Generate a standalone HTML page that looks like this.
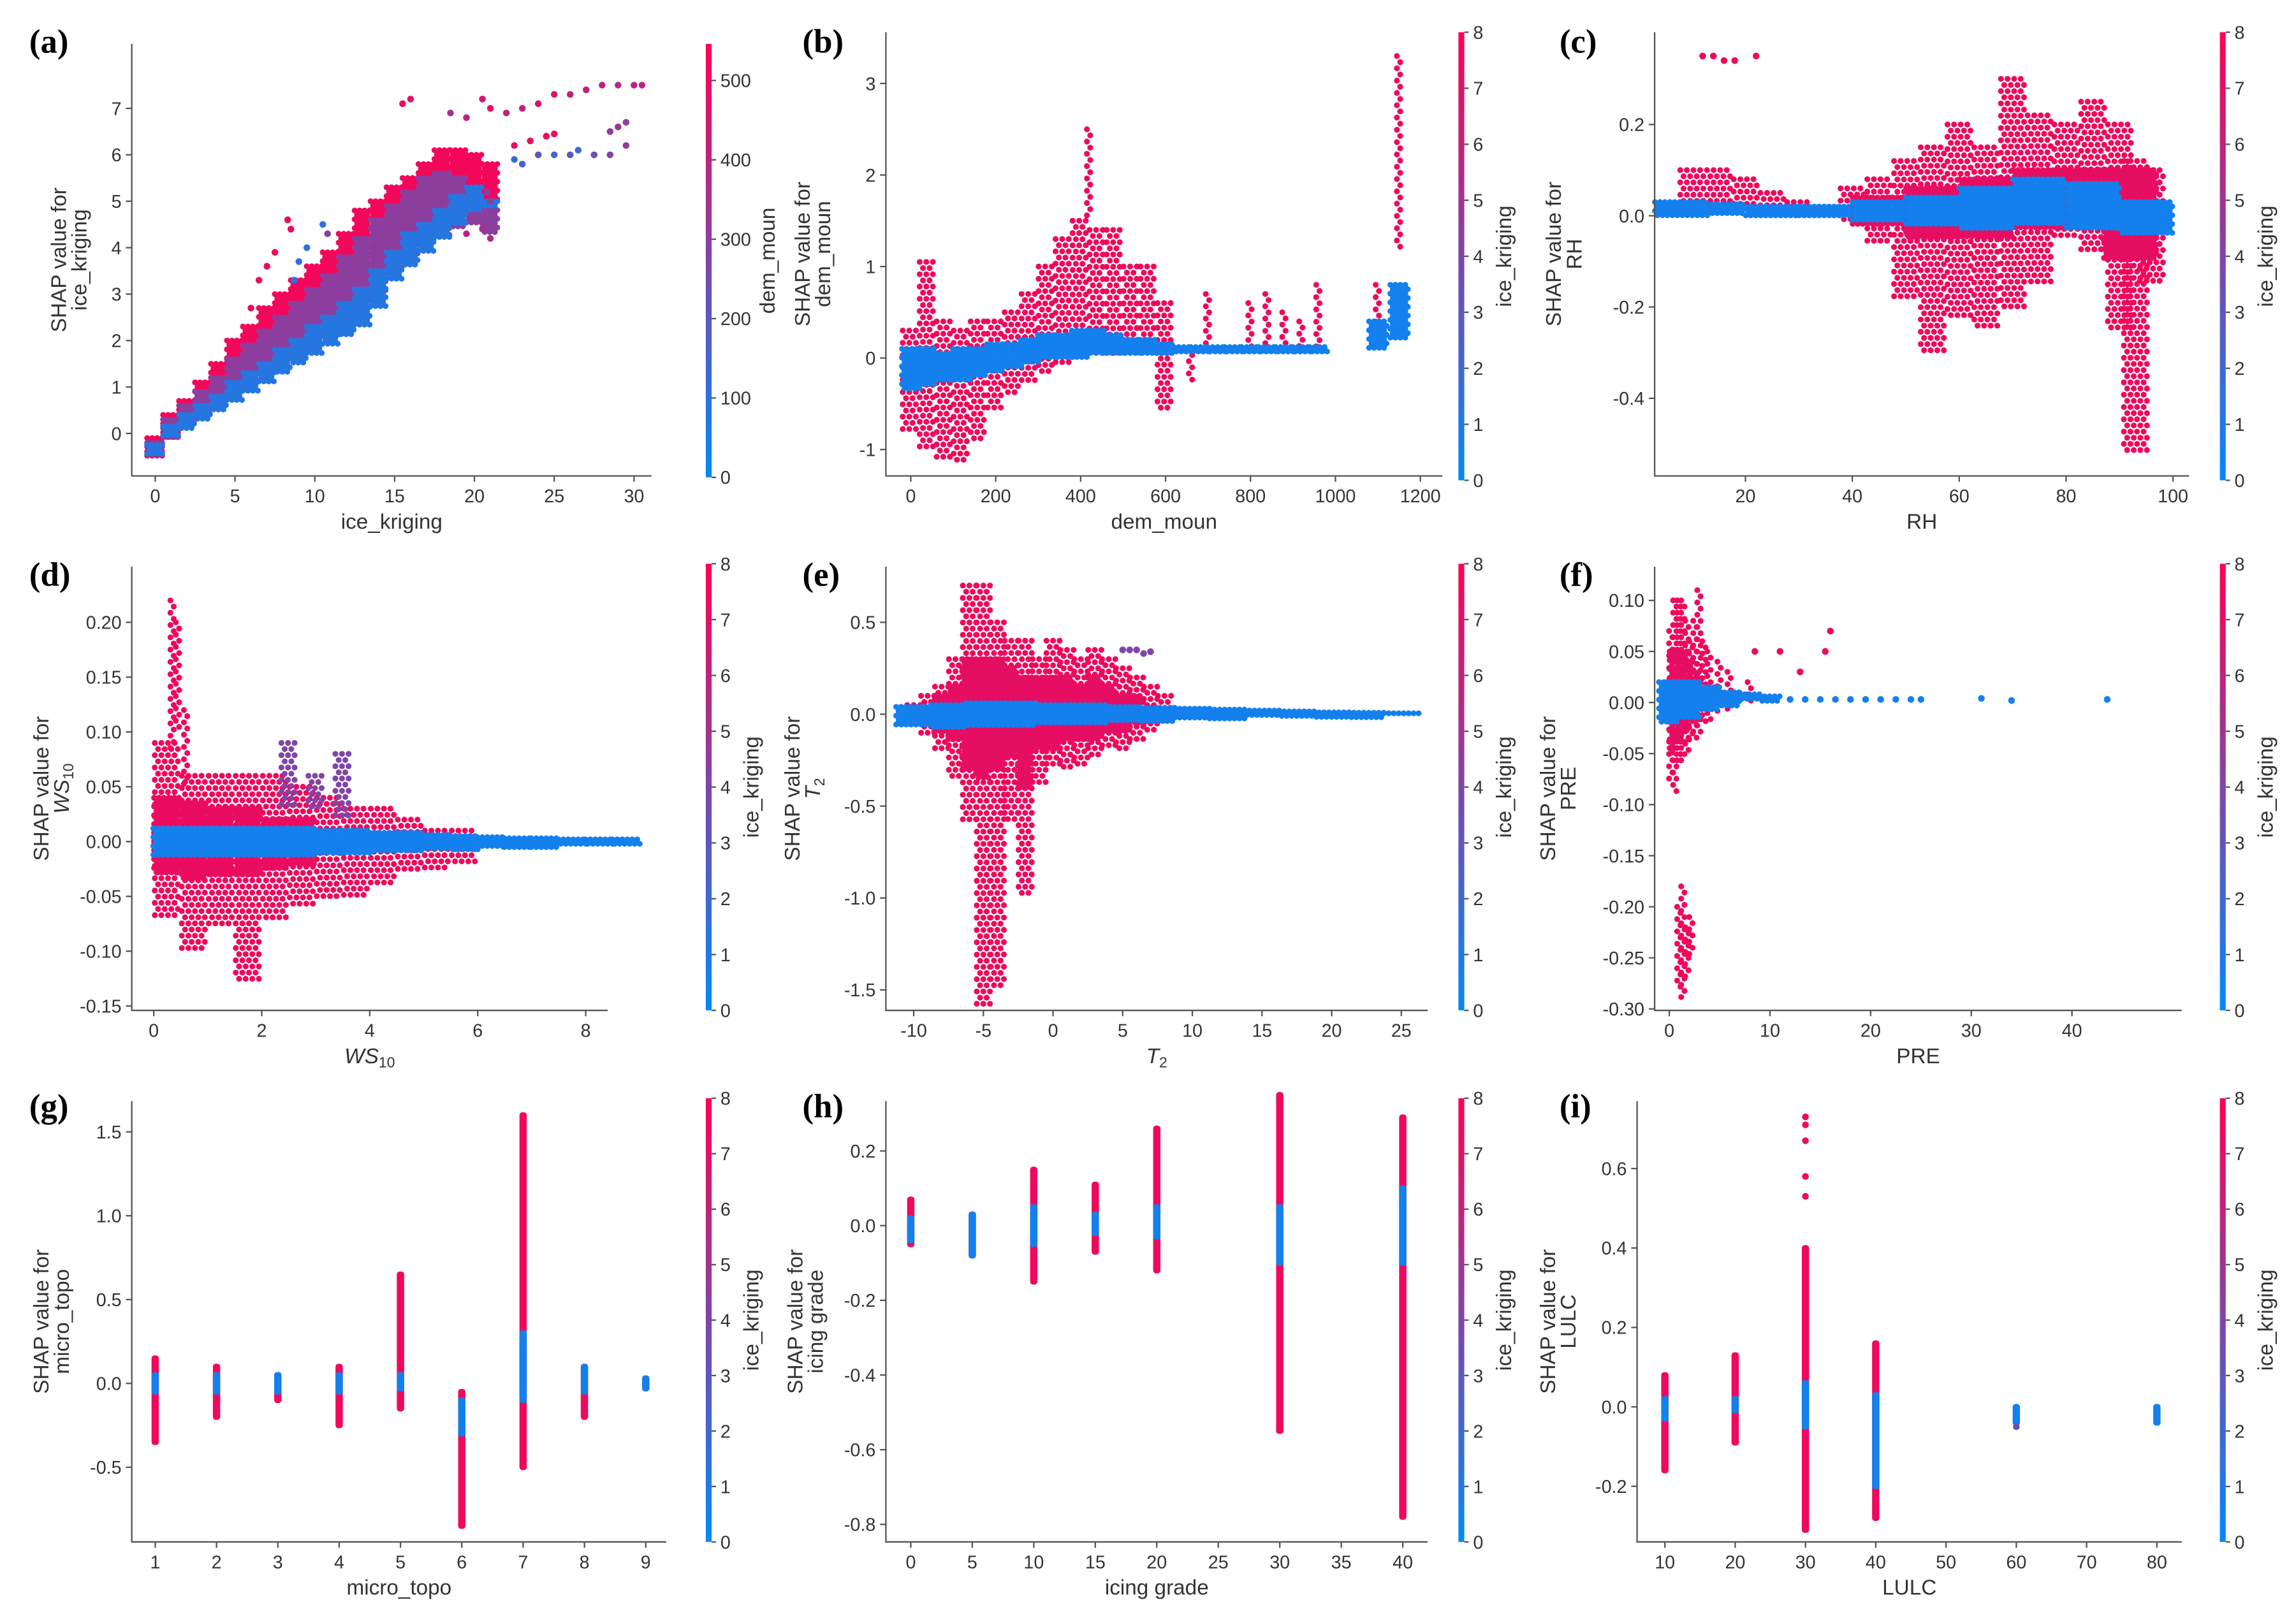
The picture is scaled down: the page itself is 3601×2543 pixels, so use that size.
<!DOCTYPE html>
<html><head><meta charset="utf-8"><title>SHAP dependence plots</title>
<style>
html,body{margin:0;padding:0;background:#fff;}
svg{display:block;}
</style></head>
<body>
<svg id="fig" xmlns="http://www.w3.org/2000/svg" width="3601" height="2543" viewBox="0 0 1568 1107" preserveAspectRatio="none" font-family="Liberation Sans, sans-serif"></svg>
<script>
// ---------- DATA (strips: x, low, high ; colour value) ----------
// panel a
const aX=[0,1,2,3,4,5,6,7,8,9,10,11,12,13,14,15,16,17,18,19,20,21];
const aRedLo=[-0.5,-0.1,0.3,0.6,0.9,1.2,1.4,1.7,1.9,2.1,2.3,2.5,2.8,3.0,3.4,3.8,4.0,4.3,4.5,4.7,4.8,4.9];
const aRedHi=[-0.1,0.4,0.7,1.1,1.5,2.0,2.3,2.7,3.0,3.3,3.6,3.9,4.3,4.8,5.0,5.3,5.5,5.8,6.1,6.1,6.0,5.8];
const aPurLo=[-0.45,-0.1,0.2,0.4,0.7,0.9,1.1,1.3,1.6,1.8,2.0,2.2,2.5,2.7,3.0,3.4,3.7,4.0,4.2,4.4,4.5,4.3];
const aPurHi=[-0.2,0.3,0.6,0.9,1.2,1.6,1.9,2.2,2.5,2.8,3.1,3.4,3.8,4.2,4.6,4.9,5.2,5.5,5.6,5.5,5.3,5.0];
const aBluLo=[-0.45,-0.1,0.1,0.3,0.5,0.7,0.9,1.1,1.3,1.5,1.7,1.9,2.1,2.3,2.7,3.3,3.6,3.9,4.2,4.5,4.8,4.9];
const aBluHi=[-0.25,0.15,0.4,0.6,0.8,1.1,1.3,1.5,1.8,2.0,2.3,2.5,2.8,3.1,3.5,3.9,4.3,4.5,4.8,5.1,5.3,5.0];
const aOX=[8.3,8.5,7.5,7,6.5,6,10.5,10.8,9.5,9,8.7,15.5,16,18.5,19.5,20.5,21,22,23,24,25,26,27,28,29,30,30.5,22.5,23.5,24.5,25,22.5,23,24,25,26,26.5,27.5,28.5,29,29.5,29.5,28.5,19.5,20.5,21,21,20.8,18.5,19.5];
const aOY=[4.6,4.4,3.9,3.6,3.3,2.7,4.5,4.3,4.0,3.7,3.3,7.1,7.2,6.9,6.8,7.2,7.0,6.9,7.0,7.1,7.3,7.3,7.4,7.5,7.5,7.5,7.5,6.2,6.3,6.4,6.45,5.9,5.8,6.0,6.0,6.0,6.1,6.0,6.5,6.6,6.7,6.2,6.0,4.3,4.4,4.2,5.0,5.2,4.9,5.1];
const aOC=[500,520,500,500,500,500,100,300,100,100,80,500,480,350,400,450,500,400,420,450,450,400,420,400,380,400,400,500,500,520,500,120,150,200,150,180,130,250,300,330,300,300,280,400,350,350,300,300,120,100];
// panel b
const bX=[0,40,80,120,160,200,240,280,320,360,400,440,480,520,560,600];
const bRedLo=[-0.8,-1.0,-1.1,-1.15,-0.9,-0.6,-0.4,-0.3,-0.2,-0.1,0.0,0.0,0.0,0.0,0.1,-0.6];
const bRedHi=[0.3,1.05,0.4,0.3,0.4,0.4,0.5,0.7,1.0,1.3,1.5,1.4,1.4,1.0,1.0,0.6];
const bR2X=[420,660,700,800,840,880,920,960,1100,1150];
const bR2Lo=[1.5,-0.25,0.1,0.1,0.1,0.1,0.1,0.1,0.1,1.2];
const bR2Hi=[2.5,0.1,0.7,0.6,0.7,0.5,0.4,0.8,0.8,3.3];
const bBX=[0,40,80,120,160,200,240,280,320,360,400,440,480,520,560,600,640,680,720,760,800,840,880,920,960,1100,1150];
const bBLo=[-0.35,-0.3,-0.25,-0.25,-0.2,-0.15,-0.1,-0.05,0.0,0.0,0.0,0.05,0.05,0.05,0.05,0.05,0.05,0.05,0.05,0.05,0.05,0.05,0.05,0.05,0.05,0.1,0.2];
const bBHi=[0.1,0.1,0.05,0.1,0.1,0.15,0.15,0.2,0.25,0.25,0.3,0.3,0.25,0.2,0.2,0.15,0.12,0.12,0.12,0.12,0.12,0.12,0.12,0.12,0.12,0.4,0.8];
// panel c
const cBX=[8,15,25,35,45,55,65,75,85,95];
const cBLo=[0.0,0.005,0.0,0.0,-0.01,-0.02,-0.03,-0.02,-0.03,-0.04];
const cBHi=[0.03,0.025,0.02,0.02,0.03,0.04,0.06,0.08,0.07,0.03];
const cRX=[10,15,20,25,30,40,45,50,55,60,65,70,75,80,85,90,93,96];
const cRLo=[0.02,0.03,0.02,0.02,0.01,-0.02,-0.06,-0.18,-0.3,-0.22,-0.25,-0.2,-0.15,-0.05,-0.08,-0.25,-0.52,-0.15];
const cRHi=[0.1,0.1,0.08,0.05,0.03,0.06,0.08,0.12,0.15,0.2,0.15,0.3,0.22,0.2,0.25,0.2,0.12,0.1];
const cCX=[45,55,65,75,85,92];
const cCLo=[-0.02,-0.05,-0.05,-0.03,-0.02,-0.1];
const cCHi=[0.04,0.06,0.08,0.1,0.1,0.1];
const cOX=[12,14,16,18,22];
const cOY=[0.35,0.35,0.34,0.34,0.35];
// panel d
const dBX=[0.25,0.75,1.25,1.75,2.25,2.75,3.25,3.75,4.25,4.75,5.25,5.75,6.25,6.75,7.25,7.75,8.25,8.75];
const dBLo=[-0.012,-0.012,-0.012,-0.012,-0.012,-0.012,-0.012,-0.01,-0.008,-0.008,-0.008,-0.007,-0.006,-0.006,-0.005,-0.005,-0.005,-0.005];
const dBHi=[0.012,0.012,0.012,0.012,0.012,0.012,0.01,0.01,0.008,0.008,0.006,0.005,0.004,0.003,0.003,0.002,0.002,0.002];
const dRX=[0.25,0.75,1.25,1.75,2.25,2.75,3.25,3.75,4.25,4.75,5.25,5.75];
const dRLo=[-0.07,-0.1,-0.08,-0.13,-0.07,-0.06,-0.05,-0.05,-0.04,-0.03,-0.025,-0.02];
const dRHi=[0.09,0.06,0.06,0.06,0.06,0.05,0.04,0.03,0.03,0.02,0.01,0.01];
const dCX=[0.25,0.75,1.25,1.75,2.25,2.75];
const dCLo=[-0.03,-0.035,-0.03,-0.03,-0.025,-0.02];
const dCHi=[0.04,0.035,0.03,0.03,0.02,0.02];
const dSX=[0.35,0.45,0.6];
const dSLo=[0.08,0.1,0.05];
const dSHi=[0.22,0.2,0.12];
const dPX=[2.5,3.0,3.5];
const dPLo=[0.03,0.03,0.02];
const dPHi=[0.09,0.06,0.08];
// panel e
const eBX=[-10,-7.5,-5,-2.5,0,2.5,5,7.5,10,12.5,15,17.5,20,22.5,25];
const eBLo=[-0.06,-0.08,-0.08,-0.07,-0.06,-0.05,-0.05,-0.04,-0.035,-0.03,-0.025,-0.02,-0.02,-0.018,-0.015];
const eBHi=[0.04,0.05,0.06,0.06,0.05,0.05,0.04,0.035,0.03,0.025,0.02,0.015,0.01,0.008,0.005];
const eRX=[-10,-9,-8,-7,-6,-5,-4,-3,-2,-1,0,1,2,3,4,5,6,7,8];
const eRLo=[-0.05,-0.1,-0.2,-0.35,-0.6,-1.6,-1.5,-0.6,-1.0,-0.4,-0.3,-0.3,-0.3,-0.25,-0.2,-0.2,-0.15,-0.1,-0.05];
const eRHi=[0.05,0.1,0.15,0.3,0.7,0.7,0.5,0.4,0.4,0.3,0.4,0.35,0.3,0.35,0.3,0.25,0.2,0.15,0.1];
const eCX=[-8,-7,-6,-5,-4,-3,-2,-1,0,1,2,3,4,5,6];
const eCLo=[-0.1,-0.15,-0.3,-0.35,-0.3,-0.25,-0.4,-0.2,-0.2,-0.15,-0.15,-0.15,-0.1,-0.1,-0.05];
const eCHi=[0.1,0.15,0.3,0.3,0.3,0.25,0.2,0.2,0.2,0.2,0.15,0.2,0.15,0.1,0.1];
const ePX=[5,5.5,6,6.5,7];
const ePY=[0.35,0.35,0.35,0.33,0.34];
// panel f
const fBX=[0,2,4,6,8,10];
const fBLo=[-0.02,-0.015,-0.01,-0.005,0,0];
const fBHi=[0.02,0.02,0.015,0.01,0.008,0.006];
const fBPX=[12,13.5,15,16.5,18,19.5,21,22.5,24,25,31,34,43.5];
const fBPY=[0.003,0.003,0.003,0.003,0.003,0.003,0.003,0.003,0.003,0.003,0.004,0.002,0.003];
const fRX=[0.2,0.6,1,1.4,1.8,2.2,2.6,3,3.5,4,5,6,8];
const fRLo=[-0.08,-0.09,-0.06,-0.06,-0.05,-0.04,-0.04,-0.03,-0.02,-0.02,-0.01,-0.01,0];
const fRHi=[0.07,0.1,0.1,0.1,0.08,0.06,0.08,0.11,0.06,0.05,0.04,0.03,0.02];
const fCX=[0.4,1,1.6,2.2,2.8];
const fCLo=[-0.05,-0.04,-0.03,-0.02,-0.02];
const fCHi=[0.05,0.05,0.05,0.04,0.03];
const fSX=[1,1.4,1.8,2.2];
const fSLo=[-0.28,-0.29,-0.27,-0.25];
const fSHi=[-0.2,-0.18,-0.22,-0.21];
const fOX=[13,16,15.5,11,8.5];
const fOY=[0.03,0.07,0.05,0.05,0.05];
// panel g
const gX=[1,2,3,4,5,6,7,8,9];
const gRLo=[-0.35,-0.2,-0.1,-0.25,-0.15,-0.85,-0.5,-0.2,-0.03];
const gRHi=[0.15,0.1,0.05,0.1,0.65,-0.05,1.6,0.1,0.03];
const gBX=[1,2,3,4,5,6,7,8,9];
const gBLo=[-0.05,-0.05,-0.05,-0.05,-0.03,-0.3,-0.1,-0.05,-0.03];
const gBHi=[0.05,0.05,0.05,0.05,0.05,-0.1,0.3,0.1,0.03];
// panel h
const hX=[0,5,10,15,20,30,40];
const hRLo=[-0.05,-0.08,-0.15,-0.07,-0.12,-0.55,-0.78];
const hRHi=[0.07,0.03,0.15,0.11,0.26,0.35,0.29];
const hBLo=[-0.04,-0.08,-0.05,-0.02,-0.03,-0.1,-0.1];
const hBHi=[0.02,0.03,0.05,0.03,0.05,0.05,0.1];
// panel i
const iX=[10,20,30,40];
const iRLo=[-0.16,-0.09,-0.31,-0.28];
const iRHi=[0.08,0.13,0.4,0.16];
const iBX=[10,20,30,40,60,80];
const iBLo=[-0.03,-0.01,-0.05,-0.2,-0.04,-0.04];
const iBHi=[0.02,0.02,0.06,0.03,0.0,0.0];
const iOX=[30,30,30,30,30,60];
const iOY=[0.53,0.58,0.67,0.71,0.73,-0.05];
const iOC=[7.5,7.5,7.5,7.5,7.5,3.5];
// tick labels
const aXT=[0,5,10,15,20,25,30], aYT=[0,1,2,3,4,5,6,7], aCT=[0,100,200,300,400,500];
const bXT=[0,200,400,600,800,1000,1200], bYT=[-1,0,1,2,3];
const cXT=[20,40,60,80,100], cYT=[-0.4,-0.2,0.0,0.2];
const dXT=[0,2,4,6,8], dYT=[-0.15,-0.10,-0.05,0.00,0.05,0.10,0.15,0.20];
const eXT=[-10,-5,0,5,10,15,20,25], eYT=[-1.5,-1.0,-0.5,0.0,0.5];
const fXT=[0,10,20,30,40], fYT=[-0.30,-0.25,-0.20,-0.15,-0.10,-0.05,0.00,0.05,0.10];
const gXT=[1,2,3,4,5,6,7,8,9], gYT=[-0.5,0.0,0.5,1.0,1.5];
const hXT=[0,5,10,15,20,25,30,35,40], hYT=[-0.8,-0.6,-0.4,-0.2,0.0,0.2];
const iXT=[10,20,30,40,50,60,70,80], iYT=[-0.2,0.0,0.2,0.4,0.6];
const kCT=[0,1,2,3,4,5,6,7,8];

// ---------- RENDERING ----------
const NS='http://www.w3.org/2000/svg';
const svg=document.getElementById('fig');
function mk(tag,parent){const e=document.createElementNS(NS,tag);parent.appendChild(e);return e;}
function colr(v,max){let t=Math.max(0,Math.min(1,v/max));
 return 'rgb('+Math.round(255*t)+','+Math.round(138-138*t)+','+Math.round(250-168*t)+')';}
function sx(g,v){return g.px0+(v-g.x0)*(g.px1-g.px0)/(g.x1-g.x0);}
function sy(g,v){return g.py0+(v-g.y0)*(g.py1-g.py0)/(g.y1-g.y0);}
function strips(g,grp,xs,los,his,c,mode,w){
 for(let i=0;i<xs.length;i++){
  const cx=sx(g,xs[i]),y1=sy(g,his[i]),y2=sy(g,los[i]);
  if(mode==='solid'){
   const r=mk('rect',grp);
   
   
   r.setAttribute('x',cx-w/2);r.setAttribute('y',y1-2);r.setAttribute('width',w);r.setAttribute('height',Math.max(4,y2-y1+4));
   r.setAttribute('rx',2);r.setAttribute('fill',colr(c,g.cmax));
  } else {
   const dy=mode==='dense'?3:4.2, dx=mode==='dense'?3.4:4.5;
   let row=0;
   for(let yy=y1;yy<=y2+0.1;yy+=dy,row++){
    for(let xx=cx-w/2+(row%2?dx/2:0);xx<=cx+w/2;xx+=dx){
     const d=mk('circle',grp);
     
     
     d.setAttribute('cx',xx);d.setAttribute('cy',yy);d.setAttribute('r',2);d.setAttribute('fill',colr(c,g.cmax));
    }
   }
  }
 }
}
function pts(g,grp,xs,ys,cs){
 for(let i=0;i<xs.length;i++){
  const d=mk('circle',grp);
  
  
  d.setAttribute('cx',sx(g,xs[i]));d.setAttribute('cy',sy(g,ys[i]));d.setAttribute('r',2.3);
  d.setAttribute('fill',colr(Array.isArray(cs)?cs[i]:cs,g.cmax));
 }
}
function txt(parent,x,y,s,size,anchor,extra){
 const t=mk('text',parent);t.setAttribute('x',x);t.setAttribute('y',y);t.setAttribute('font-size',size);
 t.setAttribute('fill','#333');t.setAttribute('text-anchor',anchor||'middle');
 if(extra)for(const k in extra)t.setAttribute(k,extra[k]);
 t.textContent=s;return t;
}
function fmt(v,d){return v.toFixed(d);}
function frame(g,grp,xt,yt,xd,yd,ct,cd){
 const ax=mk('path',grp);
 
 
 ax.setAttribute('d','M'+g.l+' '+g.t+'V'+g.b+'H'+g.r);ax.setAttribute('stroke','#555');ax.setAttribute('fill','none');ax.setAttribute('stroke-width',1);
 xt.forEach(v=>{const x=sx(g,v);
  const tk=mk('line',grp);
  
  
  tk.setAttribute('x1',x);tk.setAttribute('x2',x);tk.setAttribute('y1',g.b);tk.setAttribute('y2',g.b+4);tk.setAttribute('stroke','#555');
  const t=txt(grp,x,g.b+18,fmt(v,xd),12.5);
  
  });
 yt.forEach(v=>{const y=sy(g,v);
  const tk=mk('line',grp);
  
  
  tk.setAttribute('x1',g.l-4);tk.setAttribute('x2',g.l);tk.setAttribute('y1',y);tk.setAttribute('y2',y);tk.setAttribute('stroke','#555');
  const t=txt(grp,g.l-7,y+4.5,fmt(v,yd),12.5,'end');
  
  });
 const gid='cbg'+g.id;
 const defs=mk('defs',grp);const lg=mk('linearGradient',defs);lg.setAttribute('id',gid);
 lg.setAttribute('x1',0);lg.setAttribute('y1',1);lg.setAttribute('x2',0);lg.setAttribute('y2',0);
 [[0,'rgb(0,138,250)'],[0.5,'rgb(127,69,166)'],[1,'rgb(255,0,82)']].forEach(s=>{const st=mk('stop',lg);st.setAttribute('offset',s[0]);st.setAttribute('stop-color',s[1]);});
 const cb=mk('rect',grp);
 
 
 cb.setAttribute('x',g.cbx-2);cb.setAttribute('y',g.cbt);cb.setAttribute('width',4);cb.setAttribute('height',g.cbb-g.cbt);cb.setAttribute('fill','url(#'+gid+')');
 ct.forEach(v=>{const y=g.cbb-(v/g.cmax)*(g.cbb-g.cbt);
  const tk=mk('line',grp);
  
  
  tk.setAttribute('x1',g.cbx+2);tk.setAttribute('x2',g.cbx+5);tk.setAttribute('y1',y);tk.setAttribute('y2',y);tk.setAttribute('stroke','#555');
  const t=txt(grp,g.cbx+8,y+4.5,fmt(v,cd),12.5,'start');
  
  });
 const cl=txt(grp,0,0,g.cbLabel,14.5,'middle',{transform:'translate('+(g.cbx+(g.cmax>100?45:34))+','+((g.cbt+g.cbb)/2)+') rotate(-90)'});
 
 
 const xl=txt(grp,(g.l+g.r)/2,g.b+36,'',14.5);
 
 
 addLabel(xl,g.xlab);
 const cy=(g.t+g.b)/2;
 const y1=txt(grp,0,0,'SHAP value for',14.5,'middle',{transform:'translate('+(g.ylx)+','+cy+') rotate(-90)'});
 
 
 const y2=txt(grp,0,0,'',14.5,'middle',{transform:'translate('+(g.ylx+14)+','+cy+') rotate(-90)'});
 
 
 addLabel(y2,g.xlab);
 const pl=mk('text',grp);pl.setAttribute('x',g.lx);pl.setAttribute('y',g.ly);pl.setAttribute('font-size',23);
 pl.setAttribute('style','font-family:"Liberation Serif",serif;font-weight:bold');pl.setAttribute('fill','#000');
 
 
 pl.textContent=g.letter;
}
function addLabel(t,lab){
 if(lab==='WS10'||lab==='T2'){
  const a=mk('tspan',t);a.setAttribute('font-style','italic');a.textContent=lab==='WS10'?'WS':'T';
  const b=mk('tspan',t);b.setAttribute('font-size',10);b.setAttribute('dy',3);b.textContent=lab==='WS10'?'10':'2';
 } else t.textContent=lab;
}
function panel(g){const grp=mk('g',svg);return grp;}

const R='dense',D='dots',S='solid';
const G={
 a:{id:'a',l:90,r:445,t:30,b:325,x0:0,px0:106,x1:30,px1:433,y0:0,py0:296,y1:7,py1:74,cbx:484,cbt:30,cbb:326,cmax:546,cbLabel:'dem_moun',xlab:'ice_kriging',ylx:45,lx:20,ly:36,letter:'(a)'},
 b:{id:'b',l:605,r:985,t:22,b:325,x0:0,px0:622,x1:1200,px1:970,y0:3,py0:57,y1:-1,py1:307,cbx:998,cbt:22,cbb:328,cmax:8,cbLabel:'ice_kriging',xlab:'dem_moun',ylx:553,lx:548,ly:36,letter:'(b)'},
 c:{id:'c',l:1130,r:1495,t:22,b:325,x0:20,px0:1192,x1:100,px1:1484,y0:0.2,py0:85,y1:-0.4,py1:272,cbx:1518,cbt:22,cbb:328,cmax:8,cbLabel:'ice_kriging',xlab:'RH',ylx:1066,lx:1065,ly:36,letter:'(c)'},
 d:{id:'d',l:90,r:415,t:387,b:690,x0:0,px0:105,x1:8,px1:400,y0:0.2,py0:425,y1:-0.15,py1:687,cbx:484,cbt:385,cbb:690,cmax:8,cbLabel:'ice_kriging',xlab:'WS10',ylx:33,lx:20,ly:400,letter:'(d)'},
 e:{id:'e',l:605,r:975,t:387,b:690,x0:-10,px0:624,x1:25,px1:957,y0:0.5,py0:425,y1:-1.5,py1:676,cbx:998,cbt:385,cbb:690,cmax:8,cbLabel:'ice_kriging',xlab:'T2',ylx:546,lx:548,ly:400,letter:'(e)'},
 f:{id:'f',l:1130,r:1490,t:387,b:690,x0:0,px0:1140,x1:40,px1:1415,y0:0.1,py0:410,y1:-0.3,py1:689,cbx:1518,cbt:385,cbb:690,cmax:8,cbLabel:'ice_kriging',xlab:'PRE',ylx:1062,lx:1065,ly:400,letter:'(f)'},
 g:{id:'g',l:90,r:455,t:752,b:1053,x0:1,px0:106,x1:9,px1:441,y0:1.5,py0:773,y1:-0.5,py1:1002,cbx:484,cbt:750,cbb:1053,cmax:8,cbLabel:'ice_kriging',xlab:'micro_topo',ylx:33,lx:20,ly:763,letter:'(g)'},
 h:{id:'h',l:605,r:975,t:752,b:1053,x0:0,px0:622,x1:40,px1:958,y0:0.2,py0:786,y1:-0.8,py1:1041,cbx:998,cbt:750,cbb:1053,cmax:8,cbLabel:'ice_kriging',xlab:'icing grade',ylx:548,lx:548,ly:763,letter:'(h)'},
 i:{id:'i',l:1118,r:1490,t:752,b:1053,x0:10,px0:1137,x1:80,px1:1473,y0:0.6,py0:798,y1:-0.2,py1:1015,cbx:1518,cbt:750,cbb:1053,cmax:8,cbLabel:'ice_kriging',xlab:'LULC',ylx:1062,lx:1065,ly:763,letter:'(i)'}
};
let p;
p=panel(G.a);
strips(G.a,p,aX,aRedLo,aRedHi,520,R,11);
strips(G.a,p,aX,aPurLo,aPurHi,300,R,11);
strips(G.a,p,aX,aBluLo,aBluHi,80,R,11);
pts(G.a,p,aOX,aOY,aOC);
frame(G.a,p,aXT,aYT,0,0,aCT,0);
p=panel(G.b);
strips(G.b,p,bX,bRedLo,bRedHi,7.5,D,11);
strips(G.b,p,bR2X,bR2Lo,bR2Hi,7.5,D,3);
strips(G.b,p,bBX,bBLo,bBHi,0.6,R,12);
frame(G.b,p,bXT,bYT,0,0,kCT,0);
p=panel(G.c);
strips(G.c,p,cRX,cRLo,cRHi,7.5,D,16);
strips(G.c,p,cCX,cCLo,cCHi,7.2,R,36);
strips(G.c,p,cBX,cBLo,cBHi,0.6,R,36);
pts(G.c,p,cOX,cOY,7.5);
frame(G.c,p,cXT,cYT,0,1,kCT,0);
p=panel(G.d);
strips(G.d,p,dRX,dRLo,dRHi,7.5,D,17);
strips(G.d,p,dCX,dCLo,dCHi,7.3,R,18);
strips(G.d,p,dSX,dSLo,dSHi,7.5,D,3);
strips(G.d,p,dPX,dPLo,dPHi,4,D,10);
strips(G.d,p,dBX,dBLo,dBHi,0.6,R,19);
frame(G.d,p,dXT,dYT,0,2,kCT,0);
p=panel(G.e);
strips(G.e,p,eRX,eRLo,eRHi,7.5,D,9);
strips(G.e,p,eCX,eCLo,eCHi,7.2,R,10);
pts(G.e,p,ePX,ePY,4);
strips(G.e,p,eBX,eBLo,eBHi,0.6,R,24);
frame(G.e,p,eXT,eYT,0,1,kCT,0);
p=panel(G.f);
strips(G.f,p,fRX,fRLo,fRHi,7.5,D,3);
strips(G.f,p,fCX,fCLo,fCHi,7.2,R,5);
strips(G.f,p,fSX,fSLo,fSHi,7.5,D,3);
strips(G.f,p,fBX,fBLo,fBHi,0.6,R,14);
pts(G.f,p,fBPX,fBPY,0.6);
pts(G.f,p,fOX,fOY,7.5);
frame(G.f,p,fXT,fYT,0,2,kCT,0);
p=panel(G.g);
strips(G.g,p,gX,gRLo,gRHi,7.5,S,5);
strips(G.g,p,gBX,gBLo,gBHi,0.6,S,5);
frame(G.g,p,gXT,gYT,0,1,kCT,0);
p=panel(G.h);
strips(G.h,p,hX,hRLo,hRHi,7.5,S,5);
strips(G.h,p,hX,hBLo,hBHi,0.6,S,5);
frame(G.h,p,hXT,hYT,0,1,kCT,0);
p=panel(G.i);
strips(G.i,p,iX,iRLo,iRHi,7.5,S,5);
strips(G.i,p,iBX,iBLo,iBHi,0.6,S,5);
pts(G.i,p,iOX,iOY,iOC);
frame(G.i,p,iXT,iYT,0,1,kCT,0);
</script>
</body></html>
